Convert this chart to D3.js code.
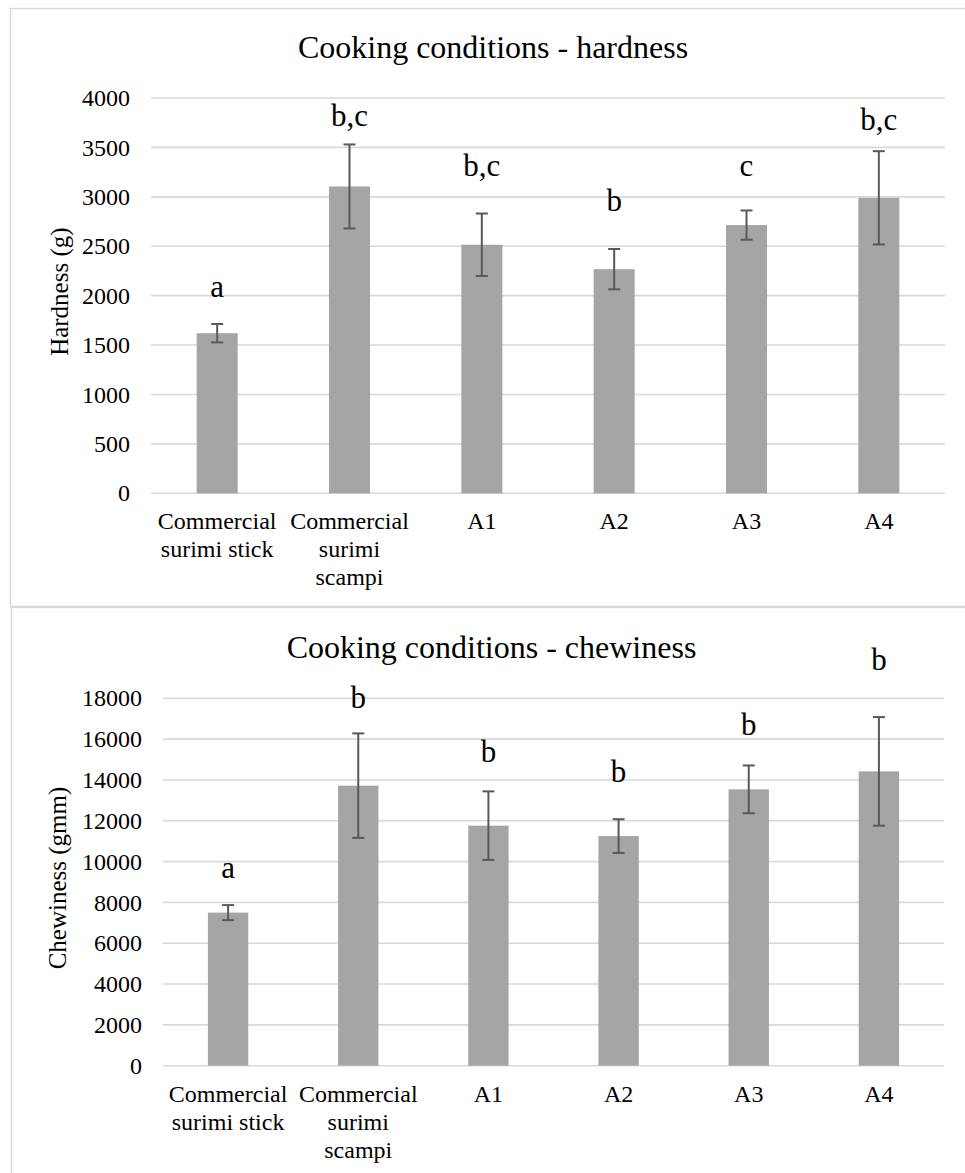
<!DOCTYPE html>
<html>
<head>
<meta charset="utf-8">
<script src="https://cdn.jsdelivr.net/npm/d3@7/dist/d3.min.js"></script>
<style>
  html, body { margin: 0; padding: 0; background: #fff; }
  svg { display: block; }
</style>
</head>
<body>
<svg id="chart" width="965" height="1173"></svg>
<script>
// Sample groups (shared by both panels)
const categories = [
  ["Commercial", "surimi stick"],
  ["Commercial", "surimi", "scampi"],
  ["A1"], ["A2"], ["A3"], ["A4"]
];

// Hardness (g): means, standard deviations, significance letters
const hardnessMean = [1620, 3105, 2515, 2268, 2714, 2990];
const hardnessSD   = [93, 425, 316, 204, 148, 472];
const hardnessSig  = ["a", "b,c", "b,c", "b", "c", "b,c"];
const hardnessSigAt = [1990, 3712, 3206, 2852, 3206, 3679];
const hardnessTicks = [0, 500, 1000, 1500, 2000, 2500, 3000, 3500, 4000];

// Chewiness (gmm): means, standard deviations, significance letters
const chewMean = [7500, 13720, 11760, 11250, 13540, 14420];
const chewSD   = [370, 2560, 1680, 825, 1170, 2660];
const chewSig  = ["a", "b", "b", "b", "b", "b"];
const chewSigAt = [9196, 17520, 14879, 13914, 16202, 19390];
const chewTicks = [0, 2000, 4000, 6000, 8000, 10000, 12000, 14000, 16000, 18000];

const svg = d3.select("#chart");
const FONT = "'Liberation Serif', 'Times New Roman', serif";
const GRID = "#d9d9d9", BAR = "#a5a5a5", ERR = "#595959";

function panel(opt) {
  const g = svg.append("g").style("font-family", FONT);

  // chart area frame
  g.append("rect")
    .attr("x", opt.frame[0]).attr("y", opt.frame[1])
    .attr("width", opt.frame[2]).attr("height", opt.frame[3])
    .attr("fill", "#fff").attr("stroke", GRID).attr("stroke-width", 1.5);

  const x = d3.scaleBand().domain(d3.range(categories.length))
    .range([opt.left, opt.right]).paddingInner(0.69).paddingOuter(0.345);
  const y = d3.scaleLinear().domain([0, d3.max(opt.ticks)])
    .range([opt.bottom, opt.top]);

  // horizontal gridlines
  g.append("g").selectAll("line").data(opt.ticks).join("line")
    .attr("x1", opt.left).attr("x2", opt.right)
    .attr("y1", d => y(d)).attr("y2", d => y(d))
    .attr("stroke", GRID).attr("stroke-width", 1.6);

  // value axis labels
  const yAxis = d3.axisLeft(y).tickValues(opt.ticks).tickSize(0).tickPadding(21)
    .tickFormat(d3.format("d"));
  const ya = g.append("g").attr("transform", `translate(${opt.left},0)`).call(yAxis);
  ya.select(".domain").remove();
  ya.attr("font-family", null).attr("font-size", null);
  ya.selectAll("text")
    .style("font-family", FONT).style("font-size", "24px").attr("fill", "#000");

  // bars
  g.append("g").selectAll("rect").data(opt.mean).join("rect")
    .attr("x", (d, i) => x(i)).attr("width", x.bandwidth())
    .attr("y", d => y(d)).attr("height", d => y(0) - y(d))
    .attr("fill", BAR);

  // error bars
  const eb = g.append("g").attr("stroke", ERR).attr("stroke-width", 2).attr("fill", "none");
  opt.mean.forEach((m, i) => {
    const cx = x(i) + x.bandwidth() / 2;
    const hi = y(m + opt.sd[i]), lo = y(m - opt.sd[i]);
    eb.append("line").attr("x1", cx).attr("x2", cx).attr("y1", hi).attr("y2", lo);
    eb.append("line").attr("x1", cx - 6).attr("x2", cx + 6).attr("y1", hi).attr("y2", hi);
    eb.append("line").attr("x1", cx - 6).attr("x2", cx + 6).attr("y1", lo).attr("y2", lo);
  });

  // significance letters
  g.append("g").selectAll("text").data(opt.sig).join("text")
    .attr("x", (d, i) => x(i) + x.bandwidth() / 2)
    .attr("y", (d, i) => y(opt.sigAt[i]))
    .attr("text-anchor", "middle")
    .style("font-family", FONT).style("font-size", "31px")
    .text(d => d);

  // category labels
  const cl = g.append("g").selectAll("text").data(categories).join("text")
    .attr("x", (d, i) => x(i) + x.bandwidth() / 2)
    .attr("y", opt.bottom + 36)
    .attr("text-anchor", "middle")
    .style("font-family", FONT).style("font-size", "24px");
  cl.selectAll("tspan").data(d => d).join("tspan")
    .attr("x", function () { return this.parentNode.getAttribute("x"); })
    .attr("dy", (d, j) => j === 0 ? 0 : 28)
    .text(d => d);

  // title
  g.append("text").attr("x", (opt.left + opt.right) / 2 - opt.titleShift).attr("y", opt.titleY)
    .attr("text-anchor", "middle")
    .style("font-family", FONT).style("font-size", "32px")
    .text(opt.title);

  // value axis title
  g.append("text")
    .attr("transform", `translate(${opt.yTitleX},${(opt.top + opt.bottom) / 2 - 4}) rotate(-90)`)
    .attr("text-anchor", "middle")
    .style("font-family", FONT).style("font-size", "25px")
    .text(opt.yTitle);
}

panel({
  frame: [10.5, 8.5, 970, 598],
  left: 151, right: 945, top: 98, bottom: 493.3,
  ticks: hardnessTicks, mean: hardnessMean, sd: hardnessSD,
  sig: hardnessSig, sigAt: hardnessSigAt,
  title: "Cooking conditions - hardness", titleY: 58, titleShift: 55,
  yTitle: "Hardness (g)", yTitleX: 68
});

panel({
  frame: [11.5, 607.5, 970, 600],
  left: 163, right: 944, top: 698.3, bottom: 1065.7,
  ticks: chewTicks, mean: chewMean, sd: chewSD,
  sig: chewSig, sigAt: chewSigAt,
  title: "Cooking conditions - chewiness", titleY: 658, titleShift: 62,
  yTitle: "Chewiness (gmm)", yTitleX: 66
});
</script>
</body>
</html>
